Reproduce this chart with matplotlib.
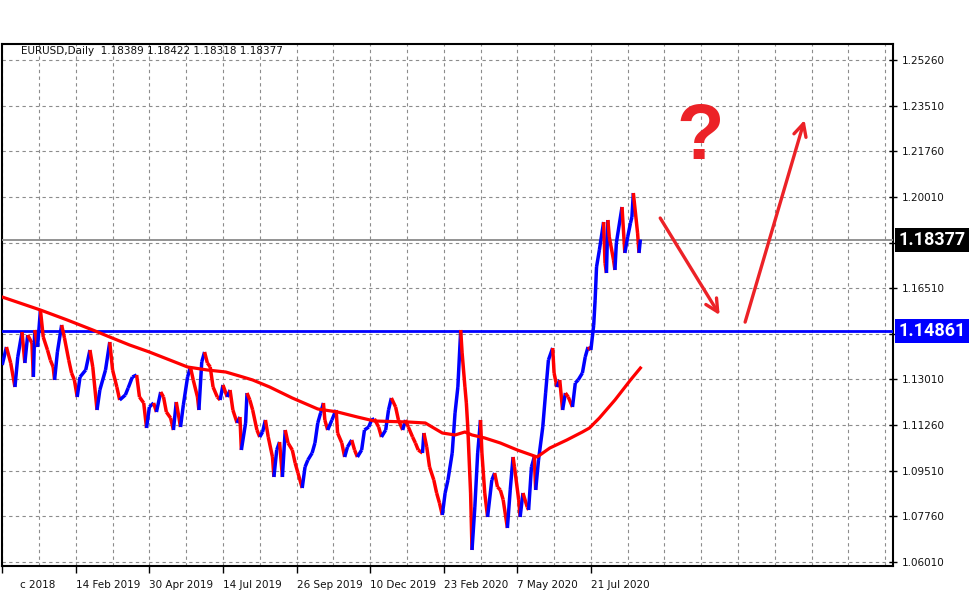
import matplotlib
matplotlib.use("Agg")
import matplotlib.pyplot as plt
from matplotlib.collections import LineCollection
from matplotlib.patches import Rectangle
from matplotlib.transforms import blended_transform_factory, ScaledTranslation

# --- data (x = bar number from the left edge) ---
bar_idx = [
    0, 3, 6, 9, 11, 14, 16, 18, 21, 22, 23, 25, 27, 29, 32, 34, 36, 37, 39, 42,
    44, 47, 49, 51, 53, 55, 59, 62, 64, 67, 69, 73, 76, 78, 81, 83, 87, 89, 92, 95,
    97, 100, 102, 104, 107, 109, 112, 114, 116, 119, 121, 123, 126, 128, 131, 133, 135, 138, 139, 141,
    143, 145, 147, 149, 152, 154, 156, 159, 161, 163, 166, 168, 169, 172, 173, 175, 177, 180, 182, 184,
    186, 188, 191, 192, 194, 196, 198, 200, 202, 205, 207, 209, 212, 214, 216, 219, 221, 223, 225, 227,
    228, 230, 233, 235, 236, 237, 240, 242, 244, 247, 249, 251, 254, 256, 259, 261, 263, 266, 268, 271,
    273, 275, 278, 280, 283, 285, 287, 290, 292, 294, 297, 298, 300, 302, 305, 307, 309, 311, 313, 315,
    318, 320, 322, 324, 325, 327, 328, 329, 331, 332, 334, 336, 338, 339, 341, 343, 346, 348, 350, 352,
    354, 357, 359, 361, 362, 365, 366, 368, 371, 372, 374, 376, 377, 379, 382, 384, 386, 389, 390, 392,
    394, 396, 398, 400, 403, 405, 407, 410, 412, 414, 416, 418, 419, 420, 422, 425, 426, 427, 428, 429,
    432, 433, 434, 438, 440, 442, 444, 445, 446, 449, 450, 451,
]
close = [
    1.13565, 1.14255, 1.13641, 1.12721, 1.13871, 1.14830, 1.13641, 1.14715, 1.14408, 1.13105,
    1.14907, 1.14255, 1.15674, 1.14638, 1.14140, 1.13756, 1.13488, 1.12990, 1.14063, 1.15099,
    1.14600, 1.13756, 1.13258, 1.12990, 1.12338, 1.13105, 1.13373, 1.14140, 1.13488, 1.11839,
    1.12606, 1.13373, 1.14447, 1.13373, 1.12721, 1.12223, 1.12414, 1.12683, 1.13105, 1.13181,
    1.12338, 1.12108, 1.11149, 1.11954, 1.12108, 1.11762, 1.12529, 1.12338, 1.11762, 1.11532,
    1.11072, 1.12146, 1.11187, 1.12031, 1.13105, 1.13488, 1.12990, 1.12338, 1.11839, 1.13680,
    1.14063, 1.13641, 1.13488, 1.12721, 1.12338, 1.12223, 1.12798, 1.12338, 1.12606, 1.11839,
    1.11341, 1.11571, 1.10305, 1.11341, 1.12491, 1.12223, 1.11839, 1.11072, 1.10804, 1.10996,
    1.11456, 1.10804, 1.10037, 1.09270, 1.10305, 1.10612, 1.09270, 1.11072, 1.10574, 1.10305,
    1.09807, 1.09423, 1.08848, 1.09653, 1.09922, 1.10190, 1.10574, 1.11341, 1.11724, 1.12108,
    1.11456, 1.11072, 1.11456, 1.11724, 1.11839, 1.10957, 1.10574, 1.10037, 1.10420, 1.10689,
    1.10305, 1.10037, 1.10305, 1.11072, 1.11187, 1.11456, 1.11500, 1.11187, 1.10804, 1.11072,
    1.11839, 1.12299, 1.11954, 1.11456, 1.11072, 1.11456, 1.11187, 1.10804, 1.10574, 1.10305,
    1.10190, 1.10957, 1.10420, 1.09653, 1.09155, 1.08656, 1.08273, 1.07813, 1.08656, 1.09155,
    1.10190, 1.11724, 1.12721, 1.14907, 1.14025, 1.12721, 1.12108, 1.11187, 1.08656, 1.06471,
    1.08120, 1.10190, 1.11456, 1.10190, 1.08656, 1.07736, 1.09155, 1.09423, 1.08887, 1.08772,
    1.08400, 1.07314, 1.08772, 1.10037, 1.09653, 1.08388, 1.07736, 1.08656, 1.08120, 1.08005,
    1.09653, 1.10037, 1.08772, 1.09922, 1.11187, 1.12491, 1.13756, 1.14217, 1.13258, 1.12721,
    1.12990, 1.11839, 1.12491, 1.12338, 1.11954, 1.12875, 1.12990, 1.13258, 1.13871, 1.14255,
    1.14140, 1.15099, 1.16057, 1.17323, 1.17975, 1.19048, 1.17476, 1.17093, 1.19125, 1.18473,
    1.17591, 1.17208, 1.18243, 1.19623, 1.17860, 1.18473, 1.19010, 1.19240, 1.20160, 1.18626,
    1.17860, 1.18377,
]
ma_idx = [0, 27, 46, 64, 76, 90, 104, 122, 131, 145, 158, 170, 177, 189, 205, 223, 237, 251,
          263, 287, 299, 311, 320, 327, 332, 341, 352, 364, 378, 387, 399, 410, 415, 422, 433,
          444, 451]
ma_val = [1.16172, 1.15674, 1.15290, 1.14907, 1.14638, 1.14332, 1.14063, 1.13680, 1.13488,
          1.13373, 1.13296, 1.13105, 1.12990, 1.12721, 1.12299, 1.11878, 1.11762, 1.11571,
          1.11417, 1.11379, 1.11341, 1.10957, 1.10881, 1.10996, 1.10881, 1.10766, 1.10574,
          1.10305, 1.10037, 1.10382, 1.10689, 1.10996, 1.11149, 1.11532, 1.12223, 1.12990,
          1.13450]

price_ticks = [1.0601, 1.0776, 1.0951, 1.1126, 1.1301, 1.1476, 1.1651, 1.1826, 1.2001,
               1.2176, 1.2351, 1.2526]
hidden_ticks = [1.1476, 1.1826]   # covered by the price tags in the original
date_ticks = [0, 52, 104, 156, 208, 260, 312, 364, 416]
date_labels = ["c 2018", "14 Feb 2019", "30 Apr 2019", "14 Jul 2019", "26 Sep 2019",
               "10 Dec 2019", "23 Feb 2020", "7 May 2020", "21 Jul 2020"]
grid_bars = [26, 78, 130, 182, 234, 286, 338, 390, 442, 468, 494, 520, 546, 572, 598, 624]

support_level = 1.14861
last_price = 1.18377
header = "EURUSD,Daily  1.18389 1.18422 1.18318 1.18377"

# forecast sketch: (bar, price) start -> end
arrow_down = ((465, 1.1920), (507, 1.1548))
arrow_up = ((525, 1.1521), (567, 1.2296))
qmark_pos = (493, 1.2225)

BLUE = "#0000ff"
RED = "#ff0000"
ARROW_RED = "#ec2227"

fig = plt.figure(figsize=(9.69, 5.91), dpi=100)
ax = fig.add_axes([1.5 / 969, 25 / 591, 891.5 / 969, 522 / 591])
ax.set_xlim(-0.5, 629.5)
ax.set_ylim(1.05857, 1.25874)

# grid
ax.set_yticks(price_ticks)
ax.set_yticklabels(["" if p in hidden_ticks else f"{p:.5f}" for p in price_ticks])
ax.set_xticks(date_ticks)
ax.set_xticklabels(date_labels, ha="left")
ax.set_xticks(grid_bars, minor=True)
grid_kw = dict(color="#8c8c8c", linestyle=(0, (3, 3)), linewidth=0.8)
ax.grid(True, axis="y", **grid_kw)
ax.grid(True, axis="x", which="both", **grid_kw)
ax.set_axisbelow(True)

ax.yaxis.tick_right()
ax.tick_params(axis="y", direction="inout", length=6, width=1, labelsize=7.5, pad=3,
               labelcolor="#111111")
ax.tick_params(axis="x", which="major", direction="out", length=5, width=1,
               labelsize=7.5, pad=5, labelcolor="#111111")
ax.tick_params(axis="x", which="minor", length=0)
first = ax.get_xticklabels()[0]
first.set_transform(first.get_transform() + ScaledTranslation(0.18, 0, fig.dpi_scale_trans))

for s in ax.spines.values():
    s.set_linewidth(1.5)
    s.set_color("black")

# price bars
segs, cols = [], []
for i in range(1, len(close)):
    segs.append([(bar_idx[i - 1], close[i - 1]), (bar_idx[i], close[i])])
    cols.append(BLUE if close[i] >= close[i - 1] else RED)
ax.add_collection(LineCollection(segs, colors=cols, linewidths=2.5, zorder=4,
                                 capstyle="butt"))

# moving average and levels
ax.plot(ma_idx, ma_val, color=RED, lw=2.3, zorder=5)
ax.axhline(support_level, color=BLUE, lw=2.0, zorder=3)
ax.axhline(last_price, color="#8a8a8a", lw=1.3, zorder=3)

ax.text(0.022, 0.9866, header, transform=ax.transAxes, fontsize=7.5, va="center",
        color="#111111")

# price tags on the right scale
tr = blended_transform_factory(fig.transFigure, ax.transData)
for level, bg in [(last_price, "black"), (support_level, BLUE)]:
    fig.add_artist(Rectangle((895 / 969, level - 0.0046), 74 / 969, 0.0092,
                             transform=tr, facecolor=bg, edgecolor="none", zorder=5))
    fig.text(898 / 969, level, f"{level:.5f}", transform=tr, color="white",
             fontsize=13, fontweight="bold", va="center", ha="left", zorder=6,
             family=["Liberation Sans Narrow", "Roboto", "DejaVu Sans"])

# forecast arrows and question mark
for (x0, y0), (x1, y1) in [arrow_down, arrow_up]:
    ax.annotate("", xy=(x1, y1), xytext=(x0, y0),
                arrowprops=dict(arrowstyle="->,head_length=0.9,head_width=0.45",
                                color=ARROW_RED, lw=2.4, shrinkA=0, shrinkB=0),
                zorder=6)
ax.text(qmark_pos[0], qmark_pos[1], "?", fontsize=56, fontweight="bold", color=ARROW_RED,
        ha="center", va="center", family=["Liberation Sans Narrow", "Liberation Sans",
                                           "DejaVu Sans"], zorder=6)

fig.savefig("out.png", dpi=100, facecolor="white")
